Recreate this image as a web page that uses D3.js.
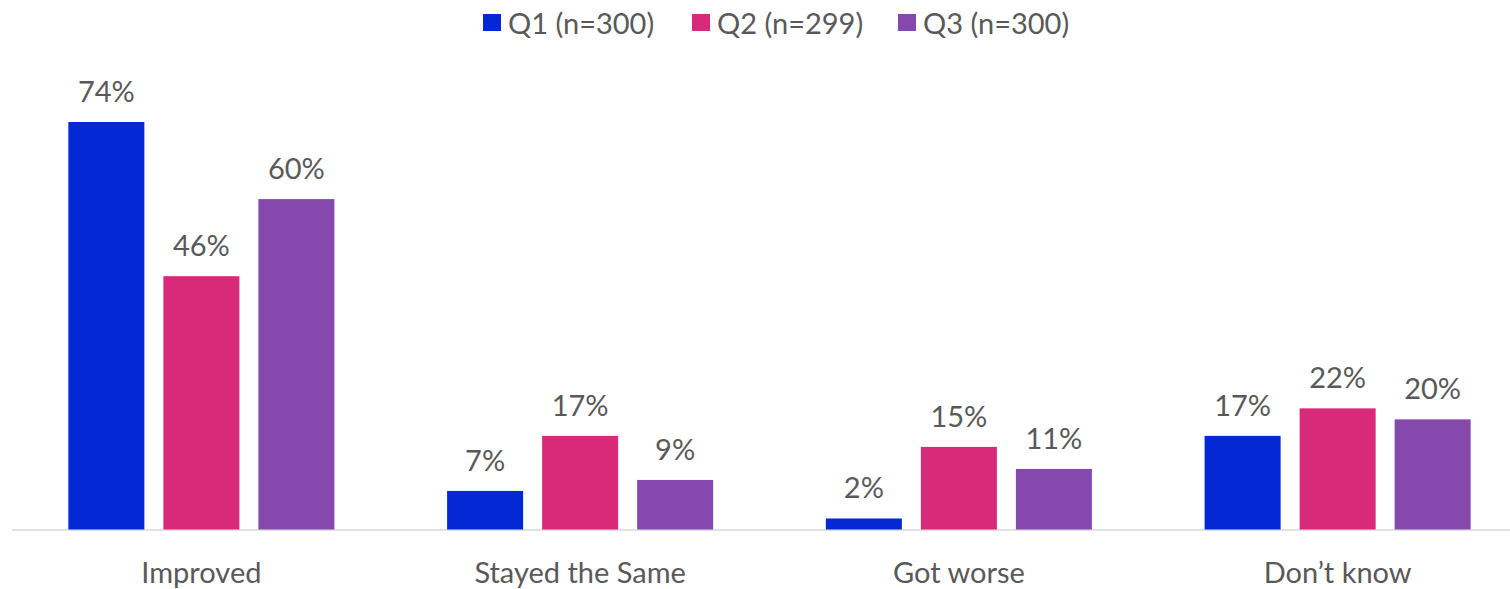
<!DOCTYPE html>
<html>
<head>
<meta charset="utf-8">
<script src="https://cdn.jsdelivr.net/npm/d3@7"></script>
<style>
  body { margin: 0; background: #fff; }
  text { font-family: Lato, "Open Sans", sans-serif; fill: #595959; }
</style>
</head>
<body>
<div id="chart"></div>
<script>
// Data
const categories = ["Improved", "Stayed the Same", "Got worse", "Don\u2019t know"];
const seriesNames = ["Q1 (n=300)", "Q2 (n=299)", "Q3 (n=300)"];
const q1Values = [74, 7, 2, 17];
const q2Values = [46, 17, 15, 22];
const q3Values = [60, 9, 11, 20];
const colors = ["#0429D4", "#D82A78", "#8549AE"];

const allValues = [q1Values, q2Values, q3Values];

const width = 1510, height = 589;
const baseline = 529.5;

const svg = d3.select("#chart")
    .append("svg")
    .attr("width", width)
    .attr("height", height);

// Scales
const x0 = d3.scaleBand()
    .domain(categories)
    .range([12, 1527]);

const x1 = d3.scaleBand()
    .domain(seriesNames)
    .range([0, x0.bandwidth()])
    .paddingInner(0.2)
    .paddingOuter(0.593);

const y = d3.scaleLinear()
    .domain([0, 74])
    .range([baseline, 122]);

// Axis line
svg.append("line")
    .attr("x1", 12)
    .attr("x2", width)
    .attr("y1", baseline + 0.5)
    .attr("y2", baseline + 0.5)
    .attr("stroke", "#d9d9d9")
    .attr("stroke-width", 1.5);

// Bars and value labels
seriesNames.forEach((s, i) => {
    const g = svg.append("g");
    g.selectAll("rect")
        .data(allValues[i])
        .join("rect")
        .attr("x", (d, j) => x0(categories[j]) + x1(s))
        .attr("y", d => y(d))
        .attr("width", x1.bandwidth())
        .attr("height", d => baseline - y(d))
        .attr("fill", colors[i]);

    g.selectAll("text")
        .data(allValues[i])
        .join("text")
        .attr("x", (d, j) => x0(categories[j]) + x1(s) + x1.bandwidth() / 2)
        .attr("y", d => y(d) - 20)
        .attr("text-anchor", "middle")
        .attr("font-size", 29)
        .text(d => d + "%");
});

// Category labels
svg.selectAll(".cat")
    .data(categories)
    .join("text")
    .attr("class", "cat")
    .attr("x", d => x0(d) + x0.bandwidth() / 2)
    .attr("y", 583)
    .attr("text-anchor", "middle")
    .attr("font-size", 29)
    .text(d => d);

// Legend
const legendX = [483, 692, 898];
const legend = svg.append("g");
seriesNames.forEach((s, i) => {
    legend.append("rect")
        .attr("x", legendX[i])
        .attr("y", 14)
        .attr("width", 18)
        .attr("height", 17)
        .attr("fill", colors[i]);
    legend.append("text")
        .attr("x", legendX[i] + 25)
        .attr("y", 34)
        .attr("font-size", 29)
        .text(s);
});
</script>
</body>
</html>
